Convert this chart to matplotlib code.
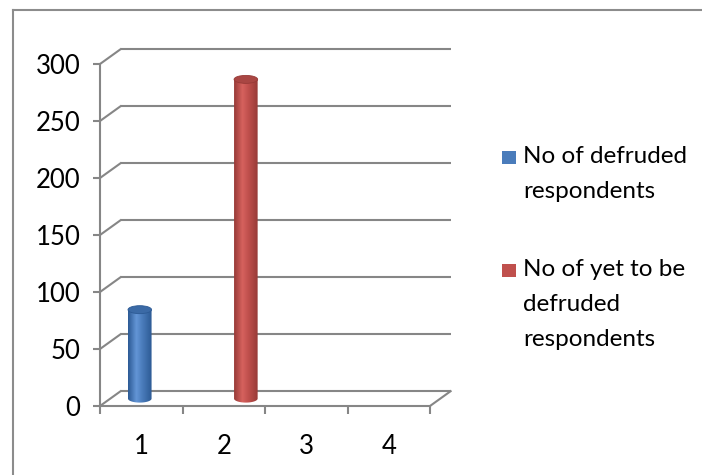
import matplotlib
matplotlib.use("Agg")
import matplotlib.pyplot as plt
import numpy as np
from matplotlib.colors import LinearSegmentedColormap
from matplotlib.lines import Line2D
from matplotlib.patches import Ellipse, PathPatch, Rectangle
from matplotlib.path import Path

categories = ["1", "2", "3", "4"]
series_names = ["No of defruded\nrespondents", "No of yet to be\ndefruded\nrespondents"]
defruded = [78, np.nan, np.nan, np.nan]
yet_to_be = [np.nan, 280, np.nan, np.nan]
y_ticks = [0, 50, 100, 150, 200, 250, 300]

plt.rcParams["font.family"] = ["Lato", "DejaVu Sans"]
FS = 18.5
LEG_FS = 17.5
GRID = "#868686"

# face colours: dark edge, highlight, base, top cap
palettes = [
    ("#2c5a94", "#6395d6", "#4a7cbb", "#3b6aa6"),
    ("#973a37", "#d6625e", "#c0504d", "#a94643"),
]

fig = plt.figure(figsize=(7.02, 4.75), dpi=100)
W, H = 702, 475
ax = fig.add_axes([100 / W, 1 - 406 / H, 330 / W, 342 / H])
n = len(categories)

# depth of the 3d box in data units
dx, dy = 0.25, 13.0

for s in ("top", "right"):
    ax.spines[s].set_visible(False)
for s in ("left", "bottom"):
    ax.spines[s].set_color(GRID)
    ax.spines[s].set_linewidth(1.5)

ax.set_yticks(y_ticks)
ax.set_yticklabels([str(v) for v in y_ticks], fontsize=FS)
ax.tick_params(axis="y", length=5, width=1.5, color=GRID, pad=9)

ax.set_xticks(np.arange(1, n + 1))
ax.set_xticklabels(categories, fontsize=FS)
ax.set_xticks(np.arange(0.5, n + 1), minor=True)
ax.tick_params(axis="x", which="major", length=0, pad=20)
ax.tick_params(axis="x", which="minor", length=6, width=1.5, color=GRID)

# back wall gridlines and side wall diagonals
x0, x1 = 0.5, n + 0.5
for v in y_ticks:
    ax.plot([x0 + dx, x1 + dx], [v + dy, v + dy], color=GRID, lw=1.5,
            clip_on=False, zorder=1, solid_capstyle="butt")
    ax.plot([x0, x0 + dx], [v, v + dy], color=GRID, lw=1.5,
            clip_on=False, zorder=1)
ax.plot([x1, x1 + dx], [0, dy], color=GRID, lw=1.5, clip_on=False, zorder=1)

bar_w = 1 / 3.5
eh = 7.0  # ellipse height of cylinder caps
t = np.linspace(0, np.pi, 60)

for i, vals in enumerate([defruded, yet_to_be]):
    dark, light, base, cap = palettes[i]
    cmap = LinearSegmentedColormap.from_list(
        f"cyl{i}", [(0, dark), (0.35, light), (0.6, base), (1, dark)])
    for j, v in enumerate(vals):
        if np.isnan(v):
            continue
        xc = (j + 1) + (i - 0.5) * bar_w + dx / 2
        yb = dy / 2
        yt = v + dy / 2
        left, right = xc - bar_w / 2, xc + bar_w / 2
        # body outline: straight sides, round bottom
        bx = xc + bar_w / 2 * np.cos(t)
        by = yb - eh / 2 * np.sin(t)
        verts = [(left, yt), (right, yt)] + list(zip(bx, by)) + [(left, yt)]
        body = PathPatch(Path(verts), facecolor="none", edgecolor="none")
        ax.add_patch(body)
        grad = np.linspace(0, 1, 100).reshape(1, -1)
        im = ax.imshow(grad, cmap=cmap, aspect="auto",
                       extent=[left, right, yb - eh / 2, yt],
                       zorder=3, interpolation="bilinear")
        im.set_clip_path(body)
        ax.add_patch(Ellipse((xc, yt), bar_w, eh, facecolor=cap,
                             edgecolor=dark, lw=0.6, zorder=4, clip_on=False))
ax.set_xlim(0.5, n + 0.5)
ax.set_ylim(0, 300)

# legend: square key beside the first line of each label
entries = [(151, 146), (264, 259)]
for i, name in enumerate(series_names):
    sq_top, text_top = entries[i]
    fig.add_artist(Rectangle((502 / W, 1 - (sq_top + 13) / H), 14 / W, 13 / H,
                             transform=fig.transFigure,
                             facecolor=palettes[i][2], edgecolor="none"))
    fig.text(523 / W, 1 - text_top / H, name, fontsize=LEG_FS, va="top",
             ha="left", linespacing=1.81)

# chart frame (left and top edges)
fig.add_artist(Line2D([13 / W, 13 / W], [0, 1 - 10 / H], color="#8c8c8c",
                      lw=1.5, transform=fig.transFigure))
fig.add_artist(Line2D([13 / W, 1], [1 - 10 / H, 1 - 10 / H], color="#8c8c8c",
                      lw=1.5, transform=fig.transFigure))

fig.savefig("out.png", dpi=100)
